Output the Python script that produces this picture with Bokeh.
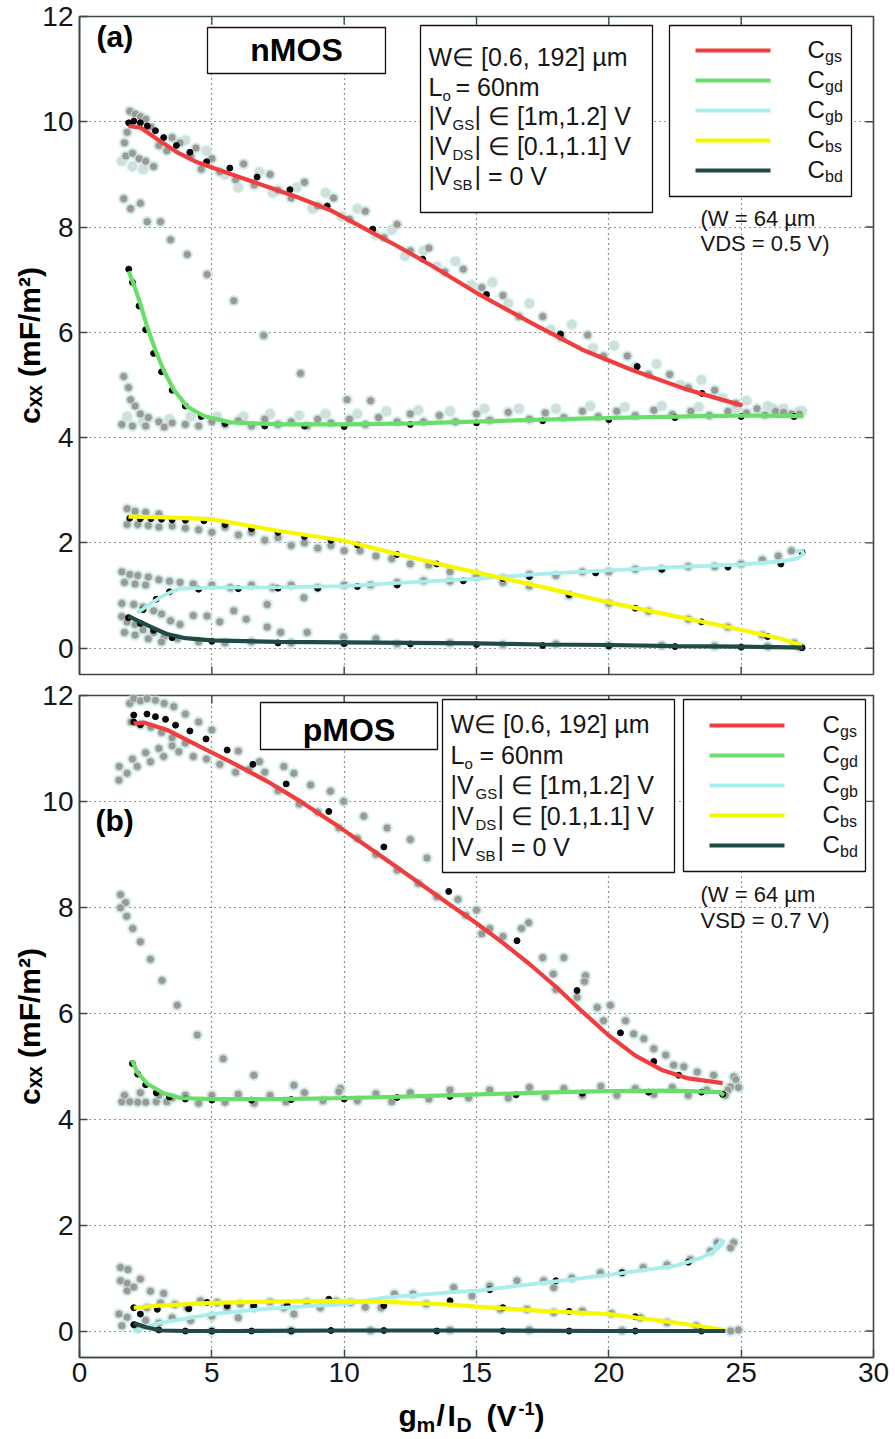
from bokeh.plotting import figure
from bokeh.models import Range1d, Label, BoxAnnotation, FixedTicker
from bokeh.layouts import column
from bokeh.embed import file_html
from bokeh.resources import INLINE

# ---------------- data ----------------
X_TICKS = [0, 5, 10, 15, 20, 25, 30]
Y_TICKS = [0, 2, 4, 6, 8, 10, 12]
SERIES = ["Cgs", "Cgd", "Cgb", "Cbs", "Cbd"]
COLORS = ["#f03e3e", "#6ade6a", "#a9eded", "#f7f700", "#1f4a45"]

# nMOS (W = 64 um, VDS = 0.5 V)
n_cgs_x = [1.86, 2.30, 2.94, 3.69, 4.45, 5.70, 6.96, 8.22, 9.48, 10.74, 12.00, 13.30, 15.10, 17.10, 19.00, 20.90, 22.80, 24.00, 25.05]
n_cgs_y = [9.92, 9.89, 9.67, 9.42, 9.23, 9.01, 8.79, 8.57, 8.32, 7.98, 7.64, 7.27, 6.72, 6.17, 5.67, 5.28, 4.94, 4.76, 4.61]
n_cgd_x = [1.86, 2.05, 2.30, 2.56, 2.87, 3.18, 3.56, 4.07, 4.70, 5.70, 7.60, 10.10, 12.60, 15.20, 17.50, 19.70, 21.60, 23.50, 25.50, 27.35]
n_cgd_y = [7.16, 6.91, 6.54, 6.10, 5.66, 5.28, 4.91, 4.59, 4.41, 4.29, 4.25, 4.25, 4.27, 4.31, 4.34, 4.37, 4.39, 4.41, 4.42, 4.41]
n_cgb_x = [2.19, 2.60, 3.10, 3.50, 3.80, 5.00, 7.50, 10.00, 12.10, 15.00, 17.50, 20.00, 22.50, 25.00, 26.50, 27.10, 27.35, 27.30, 27.05]
n_cgb_y = [0.67, 0.82, 0.98, 1.08, 1.13, 1.15, 1.16, 1.18, 1.24, 1.32, 1.41, 1.48, 1.54, 1.59, 1.65, 1.70, 1.79, 1.86, 1.84]
n_cbs_x = [1.85, 3.00, 5.00, 7.50, 10.00, 12.10, 14.00, 15.00, 17.50, 20.00, 22.50, 25.00, 26.50, 27.30]
n_cbs_y = [2.50, 2.49, 2.45, 2.23, 2.04, 1.78, 1.55, 1.44, 1.16, 0.87, 0.61, 0.35, 0.18, 0.05]
n_cbd_x = [1.85, 2.30, 2.80, 3.30, 4.00, 5.00, 7.50, 10.00, 12.50, 15.00, 17.50, 20.00, 22.50, 25.00, 27.35]
n_cbd_y = [0.61, 0.50, 0.38, 0.27, 0.19, 0.15, 0.12, 0.11, 0.10, 0.09, 0.07, 0.06, 0.04, 0.03, 0.01]

# pMOS (W = 64 um, VSD = 0.7 V)
p_cgs_x = [2.05, 2.43, 3.31, 4.57, 5.82, 7.09, 8.35, 9.60, 10.87, 12.13, 14.00, 15.00, 16.00, 17.00, 18.00, 19.00, 20.00, 21.00, 22.00, 23.00, 24.30]
p_cgs_y = [11.47, 11.49, 11.35, 11.03, 10.72, 10.38, 10.00, 9.59, 9.15, 8.71, 8.05, 7.70, 7.33, 6.93, 6.50, 6.03, 5.58, 5.20, 4.93, 4.77, 4.68]
p_cgd_x = [1.99, 2.18, 2.56, 3.18, 3.82, 5.08, 7.60, 10.10, 12.60, 15.10, 17.40, 19.90, 22.40, 24.20, 24.35]
p_cgd_y = [5.11, 4.89, 4.67, 4.49, 4.40, 4.38, 4.38, 4.40, 4.43, 4.47, 4.50, 4.53, 4.54, 4.51, 4.45]
p_cgb_x = [2.05, 3.00, 5.00, 7.00, 10.00, 11.50, 14.00, 15.00, 17.50, 20.00, 22.50, 23.50, 24.10, 24.35, 24.25, 24.05, 23.90]
p_cgb_y = [0.00, 0.15, 0.32, 0.42, 0.51, 0.63, 0.73, 0.76, 0.91, 1.06, 1.23, 1.38, 1.55, 1.68, 1.72, 1.58, 1.45]
p_cbs_x = [2.05, 3.00, 5.00, 7.50, 10.00, 12.10, 14.00, 15.00, 17.50, 20.00, 22.50, 24.40]
p_cbs_y = [0.44, 0.48, 0.53, 0.56, 0.57, 0.54, 0.50, 0.46, 0.38, 0.32, 0.16, 0.02]
p_cbd_x = [2.05, 2.50, 3.10, 4.00, 6.00, 10.00, 15.00, 20.00, 24.40]
p_cbd_y = [0.15, 0.07, 0.01, 0.00, 0.00, 0.01, 0.01, 0.00, 0.00]

# swept-W / swept-bias point clouds (x, y) pairs
n_cloud_gs = [(1.70, 9.60), (1.80, 9.80), (1.90, 10.20), (2.10, 10.15), (2.30, 10.10), (2.50, 10.05), (2.70, 9.90),
              (1.75, 9.35), (2.00, 9.40), (2.25, 9.30), (2.50, 9.25), (2.80, 9.15), (3.00, 9.55), (3.30, 9.45),
              (3.50, 9.70), (3.80, 9.60), (4.20, 9.35), (4.60, 9.10), (4.40, 9.50), (5.00, 9.30), (5.30, 9.05),
              (5.90, 8.90), (6.20, 9.20), (6.60, 8.80), (7.20, 9.00), (7.50, 8.70), (8.00, 8.55), (8.50, 8.85),
              (9.00, 8.40), (9.60, 8.55), (10.20, 8.15), (10.80, 8.30), (11.50, 7.80), (12.00, 8.05), (12.50, 7.55),
              (13.20, 7.60), (13.80, 7.15), (14.50, 7.20), (15.20, 6.85), (16.00, 6.70), (16.60, 6.30), (17.50, 6.30),
              (18.20, 5.90), (19.20, 5.95), (19.80, 5.55), (20.70, 5.55), (21.50, 5.20), (22.30, 5.20), (23.00, 4.95),
              (24.00, 4.90), (24.80, 4.65), (25.60, 4.55), (26.30, 4.50), (26.90, 4.45)]
n_cloud_gs_pale = [(1.60, 9.25), (2.00, 9.15), (2.40, 9.10), (4.00, 9.65), (4.80, 9.45), (5.50, 9.00), (6.00, 8.75),
                   (6.80, 9.05), (7.30, 8.65), (8.20, 8.75), (8.80, 8.35), (9.30, 8.65), (9.90, 8.20), (10.50, 8.35),
                   (11.20, 7.85), (11.80, 7.95), (12.30, 7.45), (13.00, 7.55), (13.50, 7.25), (14.20, 7.35),
                   (14.80, 6.90), (15.60, 6.95), (16.20, 6.55), (17.00, 6.55), (17.80, 6.05), (18.60, 6.15),
                   (19.40, 5.70), (20.20, 5.75), (21.00, 5.35), (21.80, 5.40), (22.70, 5.00), (23.50, 5.10),
                   (24.30, 4.75), (25.20, 4.70), (26.00, 4.60), (26.60, 4.55), (27.20, 4.50)]
n_cloud_diag = [(1.67, 8.54), (1.93, 8.35), (2.30, 8.45), (2.56, 8.10), (3.06, 8.10), (3.44, 7.76), (4.07, 7.48),
                (4.82, 7.10), (5.83, 6.60), (6.96, 5.94), (8.35, 5.22), (10.11, 4.72), (11.00, 4.70)]
n_cloud_gd = [(1.67, 5.16), (1.85, 4.95), (1.93, 4.72), (2.10, 4.60), (2.30, 4.45), (2.60, 4.38), (3.00, 4.30),
              (3.50, 4.28), (4.00, 4.25), (1.60, 4.25), (2.00, 4.22), (2.50, 4.22), (3.20, 4.20), (4.50, 4.22),
              (5.00, 4.30), (5.50, 4.25), (6.00, 4.32), (6.50, 4.22), (7.00, 4.35), (7.50, 4.25), (8.00, 4.30),
              (8.60, 4.22), (9.00, 4.35), (9.50, 4.28), (10.20, 4.35), (10.80, 4.25), (11.30, 4.38), (12.00, 4.30),
              (12.50, 4.45), (13.00, 4.30), (13.60, 4.42), (14.20, 4.30), (15.00, 4.45), (15.50, 4.33), (16.20, 4.48),
              (17.00, 4.35), (17.60, 4.47), (18.30, 4.38), (19.00, 4.50), (19.60, 4.40), (20.30, 4.50), (21.00, 4.42),
              (21.70, 4.52), (22.40, 4.44), (23.10, 4.50), (23.80, 4.42), (24.50, 4.50), (25.20, 4.47), (25.90, 4.43),
              (26.60, 4.48), (27.20, 4.45)]
n_cloud_gd_pale = [(1.80, 4.40), (2.40, 4.30), (3.40, 4.35), (4.20, 4.40), (5.20, 4.40), (6.20, 4.40), (7.20, 4.45),
                   (8.30, 4.42), (9.30, 4.45), (10.50, 4.45), (11.60, 4.50), (12.80, 4.52), (14.00, 4.50),
                   (15.30, 4.55), (16.60, 4.55), (18.00, 4.55), (19.30, 4.60), (20.60, 4.58), (22.00, 4.60),
                   (23.40, 4.58), (24.80, 4.55), (26.20, 4.55), (27.30, 4.50)]
n_cloud_bs = [(1.80, 2.65), (2.10, 2.60), (2.50, 2.58), (3.00, 2.55), (1.80, 2.35), (2.20, 2.35), (2.60, 2.33),
              (3.00, 2.30), (3.50, 2.32), (4.00, 2.28), (4.50, 2.25), (5.00, 2.20), (5.50, 2.30), (6.00, 2.15),
              (6.50, 2.20), (7.00, 2.05), (7.50, 2.10), (8.00, 1.95), (8.50, 2.00), (9.00, 1.90), (9.50, 1.95),
              (10.00, 1.85), (10.60, 1.85), (11.20, 1.75), (11.80, 1.70), (12.50, 1.60), (13.20, 1.58), (14.00, 1.45),
              (15.00, 1.40), (16.00, 1.25), (17.00, 1.18), (18.50, 1.00), (20.00, 0.85), (21.50, 0.70), (23.00, 0.55),
              (24.50, 0.40), (25.80, 0.25), (27.00, 0.10)]
n_cloud_gb = [(1.60, 1.45), (1.90, 1.40), (2.20, 1.38), (2.60, 1.35), (3.00, 1.30), (3.40, 1.27), (3.80, 1.25),
              (1.70, 1.25), (2.10, 1.22), (2.50, 1.20), (4.30, 1.22), (5.00, 1.20), (5.70, 1.15), (6.50, 1.20),
              (7.30, 1.15), (8.00, 1.20), (9.00, 1.15), (10.00, 1.20), (11.00, 1.20), (12.00, 1.25), (13.00, 1.28),
              (14.00, 1.27), (15.00, 1.35), (16.00, 1.33), (17.00, 1.40), (18.00, 1.38), (19.00, 1.45), (20.00, 1.45),
              (21.00, 1.50), (22.00, 1.50), (23.00, 1.55), (24.00, 1.55), (25.00, 1.60), (25.80, 1.68), (26.40, 1.75),
              (26.90, 1.85)]
n_cloud_low = [(1.60, 0.85), (2.05, 0.83), (2.40, 0.78), (2.80, 0.71), (3.10, 0.65), (3.44, 0.52), (3.80, 0.45),
               (4.30, 0.62), (4.82, 0.61), (5.30, 0.50), (5.83, 0.71), (6.30, 0.55), (7.09, 0.83), (7.09, 0.40),
               (7.60, 0.30), (8.48, 0.96), (8.60, 0.30), (9.98, 0.21), (11.20, 0.18),
               (1.60, 0.60), (1.80, 0.50), (2.10, 0.45), (2.40, 0.35), (2.80, 0.30), (3.20, 0.22), (3.70, 0.18),
               (1.70, 0.30), (2.10, 0.25), (2.60, 0.18), (3.10, 0.12), (4.50, 0.12), (5.50, 0.10), (6.50, 0.12),
               (8.00, 0.10), (10.00, 0.10), (12.00, 0.08), (14.00, 0.10), (16.00, 0.07), (18.00, 0.08), (20.00, 0.05),
               (22.00, 0.05), (24.00, 0.04), (26.00, 0.03), (27.20, 0.02)]
n_black = [(1.86, 9.98), (2.05, 10.01), (2.30, 9.98), (2.56, 9.92), (2.87, 9.83), (3.18, 9.70), (3.66, 9.55),
           (4.17, 9.42), (4.80, 9.24), (5.68, 9.12), (6.71, 8.95), (7.95, 8.71), (9.36, 8.40), (11.08, 7.96),
           (12.97, 7.39), (15.38, 6.72), (18.17, 5.97), (21.07, 5.35), (23.52, 4.84),
           (1.86, 7.20), (2.00, 6.95), (2.25, 6.50), (2.50, 6.05), (2.80, 5.60), (3.10, 5.25), (3.50, 4.90),
           (4.00, 4.60), (4.60, 4.40), (5.50, 4.27), (7.00, 4.22), (8.50, 4.22), (10.00, 4.21), (12.50, 4.25),
           (15.00, 4.28), (17.50, 4.32), (20.00, 4.34), (22.50, 4.38), (25.00, 4.40), (27.00, 4.40),
           (1.90, 2.47), (2.30, 2.46), (2.70, 2.46), (3.10, 2.45), (3.50, 2.44), (4.00, 2.43), (4.70, 2.42),
           (5.50, 2.35), (6.50, 2.27), (7.50, 2.20), (8.50, 2.12), (9.50, 2.05), (10.50, 1.96), (12.00, 1.78),
           (13.50, 1.60), (16.00, 1.32), (18.50, 1.02), (21.00, 0.76), (23.50, 0.50), (26.00, 0.22),
           (2.40, 0.73), (2.90, 0.93), (3.40, 1.07), (4.50, 1.12), (6.00, 1.13), (7.50, 1.14), (9.00, 1.14),
           (10.50, 1.17), (12.00, 1.20), (14.50, 1.28), (17.00, 1.36), (19.50, 1.43), (22.00, 1.50), (24.50, 1.54),
           (26.50, 1.60), (27.30, 1.82),
           (1.85, 0.58), (2.30, 0.47), (2.80, 0.34), (3.50, 0.20), (5.00, 0.13), (7.50, 0.10), (10.00, 0.09),
           (12.50, 0.08), (15.00, 0.07), (17.50, 0.05), (20.00, 0.04), (22.50, 0.03), (25.00, 0.02), (27.30, 0.01)]

p_cloud_gs = [(1.90, 11.85), (2.05, 11.94), (2.30, 11.90), (2.55, 11.94), (2.87, 11.91), (3.20, 11.85), (3.56, 11.79),
              (4.00, 11.65), (4.50, 11.50), (5.00, 11.35), (1.95, 11.50), (2.30, 11.45), (2.70, 11.40), (3.10, 11.30),
              (3.50, 11.20), (4.00, 11.10), (1.49, 10.40), (1.80, 10.53), (2.18, 10.66), (2.68, 10.75), (3.18, 10.85),
              (3.75, 10.94), (1.50, 10.66), (2.00, 10.80), (2.50, 10.92), (3.00, 11.00), (3.50, 11.05), (4.30, 10.85),
              (4.80, 10.80), (5.30, 10.70), (5.90, 10.55), (6.40, 10.60), (7.00, 10.55), (7.72, 10.66), (8.10, 10.53),
              (8.73, 10.31), (9.48, 10.19), (9.98, 10.00), (10.74, 9.72), (11.62, 9.50), (12.50, 9.28), (13.13, 8.93),
              (6.00, 10.95), (6.80, 10.75), (7.50, 10.20), (8.30, 9.95), (9.00, 9.80), (9.80, 9.50), (10.50, 9.30),
              (11.20, 9.00), (12.00, 8.70), (12.80, 8.45), (13.50, 8.20), (14.30, 8.15), (15.00, 7.95), (15.50, 7.60),
              (16.00, 7.45), (16.70, 7.60), (16.97, 7.71), (17.50, 7.05), (17.90, 6.74), (18.30, 7.05), (19.12, 6.71),
              (19.08, 6.60), (19.56, 6.11), (19.80, 5.86), (20.06, 6.15), (20.63, 5.86), (20.94, 5.61), (21.32, 5.52),
              (21.70, 5.33), (22.15, 5.21), (22.45, 5.02), (22.83, 4.99), (23.34, 4.89), (23.96, 4.83), (24.72, 4.80),
              (24.60, 4.61), (24.50, 4.55), (18.00, 6.45), (18.80, 6.30), (15.20, 7.50), (14.60, 7.85)]
p_cloud_diag = [(1.55, 8.24), (1.74, 8.09), (1.55, 7.99), (1.78, 7.83), (2.01, 7.60), (2.30, 7.35), (2.68, 7.02),
                (3.12, 6.62), (3.69, 6.15), (4.45, 5.59), (5.43, 5.14), (6.59, 4.83), (8.10, 4.64), (9.86, 4.58)]
p_cloud_gd = [(1.60, 4.33), (1.90, 4.33), (2.20, 4.32), (2.50, 4.32), (2.90, 4.33), (3.30, 4.33), (1.70, 4.45),
              (2.30, 4.50), (3.00, 4.45), (3.50, 4.40), (4.00, 4.45), (4.50, 4.30), (5.00, 4.45), (5.50, 4.32),
              (6.00, 4.47), (6.60, 4.30), (7.20, 4.45), (7.80, 4.33), (8.50, 4.50), (9.20, 4.35), (9.80, 4.52),
              (10.50, 4.35), (11.20, 4.48), (11.80, 4.33), (12.50, 4.50), (13.20, 4.38), (14.00, 4.55), (14.70, 4.40),
              (15.50, 4.55), (16.20, 4.40), (17.00, 4.60), (17.60, 4.42), (18.30, 4.58), (19.00, 4.45), (19.70, 4.62),
              (20.30, 4.45), (21.00, 4.58), (21.70, 4.47), (22.40, 4.60), (23.00, 4.45), (23.70, 4.55), (24.40, 4.45),
              (24.90, 4.60), (24.80, 4.75)]
p_cloud_low = [(1.55, 1.20), (1.83, 1.16), (1.55, 0.95), (1.80, 0.90), (1.80, 0.76), (2.05, 0.83), (2.30, 0.98),
               (2.68, 0.75), (3.18, 0.71), (1.49, 0.32), (1.80, 0.26), (2.55, 0.44), (3.06, 0.53), (3.60, 0.50),
               (4.07, 0.44), (4.57, 0.57), (5.20, 0.54), (5.58, 0.44), (6.08, 0.51), (6.58, 0.44), (7.20, 0.55),
               (7.72, 0.44), (8.10, 0.32), (8.60, 0.55), (9.10, 0.44), (9.70, 0.56), (10.24, 0.54), (10.80, 0.45),
               (11.40, 0.44), (11.90, 0.70), (12.60, 0.70), (13.10, 0.51), (2.50, 0.20), (3.00, 0.15), (3.50, 0.25),
               (4.20, 0.20), (5.00, 0.28), (6.00, 0.25), (1.60, 0.10), (2.20, 0.05), (14.14, 0.82), (14.83, 0.66),
               (15.50, 0.85), (16.53, 0.95), (17.54, 0.95), (17.92, 0.82), (18.60, 1.00), (19.68, 1.10), (20.50, 1.10),
               (21.30, 1.20), (22.20, 1.25), (23.08, 1.35), (23.84, 1.51), (24.09, 1.67), (24.72, 1.67), (24.60, 1.57),
               (15.90, 0.41), (16.90, 0.41), (17.92, 0.35), (19.00, 0.38), (20.10, 0.33), (21.20, 0.25), (22.20, 0.16),
               (23.30, 0.10), (24.60, 0.00), (24.90, 0.02), (14.00, 0.02), (17.00, 0.02), (20.50, 0.01), (11.00, 0.01),
               (8.00, 0.01), (5.00, 0.00)]
p_black = [(2.05, 11.63), (2.55, 11.65), (2.87, 11.60), (3.25, 11.55), (3.63, 11.44), (4.17, 11.33), (4.78, 11.18),
           (5.58, 10.97), (6.55, 10.70), (7.81, 10.33), (9.42, 9.81), (11.50, 9.14), (13.95, 8.30), (16.53, 7.37),
           (18.80, 6.43), (20.44, 5.63), (21.70, 5.09), (22.64, 4.83), (2.05, 11.50), (2.30, 11.45),
           (2.00, 5.05), (2.20, 4.85), (2.50, 4.65), (2.90, 4.50), (3.40, 4.42), (4.00, 4.38), (5.00, 4.36),
           (6.50, 4.36), (8.00, 4.37), (10.00, 4.38), (12.00, 4.41), (14.00, 4.43), (16.50, 4.46), (19.00, 4.49),
           (21.50, 4.51), (23.50, 4.51), (24.30, 4.47),
           (2.05, 0.44), (2.30, 0.32), (2.94, 0.41), (4.13, 0.42), (4.82, 0.54), (5.58, 0.48), (6.58, 0.48),
           (7.85, 0.48), (9.42, 0.60), (11.50, 0.48), (14.00, 0.57), (15.50, 0.78), (18.00, 0.95), (20.50, 1.10),
           (23.00, 1.30), (24.20, 1.65), (16.00, 0.44), (18.50, 0.37), (21.00, 0.27),
           (2.05, 0.12), (3.00, 0.02), (4.00, 0.00), (5.00, 0.00), (6.50, 0.00), (8.00, 0.00), (9.50, 0.01),
           (11.50, 0.01), (13.50, 0.00), (16.00, 0.00), (18.50, 0.00), (21.00, 0.00), (23.50, 0.00)]

# ---------------- styling / layout ----------------
FONT = "Liberation Sans"
FRAME = "#3b4a45"
TXT = "#161616"
FL, FR = 79, 873          # frame left/right in page pixels
TOP_F = (16, 674)         # nMOS frame top/bottom (page px)
BOT_F = (695, 1357)       # pMOS frame top/bottom (page px)
STRIP_TOP = 1396          # x-title strip top (page px)
YMIN, YMAX = -0.5, 12.0
BL = 0.36                 # baseline correction (fraction of font size)


def conv(frame):
    t, b = frame
    def f(px, py):
        x = (px - FL) / (FR - FL) * 30.0
        y = YMAX - (py - t) / (b - t) * (YMAX - YMIN)
        return x, y
    return f


def make_fig(height, frame, top, bottom, show_x):
    p = figure(width=895, height=height, x_range=Range1d(0, 30), y_range=Range1d(YMIN, YMAX),
               output_backend="svg", toolbar_location=None,
               x_axis_location="below" if show_x else None,
               min_border_left=FL, min_border_right=895 - FR,
               min_border_top=top, min_border_bottom=bottom)
    p.background_fill_color = "white"
    p.border_fill_color = "white"
    p.outline_line_color = FRAME
    p.outline_line_width = 1.6
    for ax in p.axis:
        ax.major_tick_in = 8
        ax.major_tick_out = 0
        ax.minor_tick_line_color = None
        ax.axis_line_color = FRAME
        ax.axis_line_width = 1.6
        ax.major_tick_line_color = FRAME
        ax.major_tick_line_width = 1.4
        ax.major_label_text_font = FONT
        ax.major_label_text_font_size = "28px"
        ax.major_label_text_color = TXT
    for ax in p.yaxis:
        ax.ticker = FixedTicker(ticks=Y_TICKS)
        ax.major_label_standoff = 6
        ax.axis_label = "c\u2093\u2093 (mF/m\u00b2)"
        ax.axis_label_text_font = FONT
        ax.axis_label_text_font_style = "bold"
        ax.axis_label_text_font_size = "30px"
        ax.axis_label_text_color = "#000000"
        ax.axis_label_standoff = -7
    for ax in p.xaxis:
        ax.ticker = FixedTicker(ticks=X_TICKS)
        ax.major_label_standoff = 5
    for g in p.grid:
        g.grid_line_color = "#2a2a2a"
        g.grid_line_dash = "1 4"
        g.grid_line_width = 1.2
    p.xgrid.ticker = FixedTicker(ticks=X_TICKS)
    p.ygrid.ticker = FixedTicker(ticks=Y_TICKS)
    # inward tick marks on the other frame sides (from the tick lists)
    t, b = frame
    dy = 8 / (b - t) * (YMAX - YMIN)
    dx = 8 / (FR - FL) * 30.0
    xt = X_TICKS[1:-1]
    yt = Y_TICKS[1:-1] + [0]
    p.segment(x0=xt, y0=[YMAX] * len(xt), x1=xt, y1=[YMAX - dy] * len(xt), line_color=FRAME, line_width=1.4)
    p.segment(x0=[30.0] * len(yt), y0=yt, x1=[30.0 - dx] * len(yt), y1=yt, line_color=FRAME, line_width=1.4)
    if not show_x:
        p.segment(x0=xt, y0=[YMIN] * len(xt), x1=xt, y1=[YMIN + dy] * len(xt), line_color=FRAME, line_width=1.4)
    return p


def draw_data(p, clouds, pale, black, curves):
    allc = clouds + pale
    for cl in allc:
        p.scatter([a for a, b in cl], [b for a, b in cl], size=12, color="#c6eeee", alpha=0.7, line_color=None)
    for cl in pale:
        p.scatter([a for a, b in cl], [b for a, b in cl], size=8, fill_color="#d9dcd8",
                  line_color="#bfe3dc", line_width=1.0)
    for cl in clouds:
        p.scatter([a for a, b in cl], [b for a, b in cl], size=8, fill_color="#999a97",
                  line_color="#cdd8cd", line_width=1.0)
    p.scatter([a for a, b in black], [b for a, b in black], size=6, color="#080808")
    for i in [1, 2, 3, 4, 0]:
        xs, ys = curves[i]
        p.line(xs, ys, line_color=COLORS[i], line_width=4.2 if i != 2 else 3.8)


def label(p, cv, px, py, text, size, bold=False, align="left", color=TXT):
    x, y = cv(px, py - BL * size)
    p.add_layout(Label(x=x, y=y, text=text, text_font=FONT, text_font_size=f"{size}px",
                       text_font_style="bold" if bold else "normal", text_align=align,
                       text_baseline="alphabetic", text_color=color))


def box(p, cv, x1, y1, x2, y2, fill="white", line="#111111", lw=1.3):
    l, t = cv(x1, y1)
    r, b = cv(x2, y2)
    p.add_layout(BoxAnnotation(left=l, right=r, top=t, bottom=b, fill_color=fill, fill_alpha=1.0,
                               line_color=line, line_width=lw, line_alpha=1.0 if line else 0.0))


def decorate(p, cv, tag, tag_pos, dev, dev_box, dev_base, pbox, px0, base, subs, lbox, lx, ly, ctext_x,
             note_x, note_base, note2):
    box(p, cv, *dev_box)
    label(p, cv, (dev_box[0] + dev_box[2]) / 2, dev_base, dev, 32, bold=True, align="center", color="#000")
    label(p, cv, tag_pos[0], tag_pos[1], tag, 30, bold=True, color="#000")
    box(p, cv, *pbox)
    fs, ss = 25, 15
    label(p, cv, px0, base[0], "W\u2208 [0.6, 192] \u00b5m", fs)
    label(p, cv, px0, base[1], "L", fs)
    label(p, cv, subs["o"], base[1] + 5, "o", ss)
    label(p, cv, subs["eq"], base[1], "= 60nm", fs)
    rows = [("GS", "| \u2208 [1m,1.2] V"), ("DS", "| \u2208 [0.1,1.1] V"), ("SB", "| = 0 V")]
    for k, (sb, rest) in enumerate(rows):
        by = base[2 + k]
        label(p, cv, px0, by, "|V", fs)
        label(p, cv, subs["sub"], by + 5, sb, ss)
        label(p, cv, subs["rest"], by, rest, fs)
    box(p, cv, *lbox)
    for k, name in enumerate(SERIES):
        yy = ly[k]
        box(p, cv, lx[0], yy - 2, lx[1], yy + 2, fill=COLORS[k], line=None)
        label(p, cv, ctext_x, yy + 8, "C", 24)
        label(p, cv, ctext_x + 17.5, yy + 12, name[1:], 16)
    label(p, cv, note_x, note_base[0], "(W = 64 \u00b5m", 22)
    label(p, cv, note_x, note_base[1], note2, 22)


# ---------------- top panel (nMOS) ----------------
top = make_fig(678, TOP_F, 16, 4, False)
draw_data(top, [n_cloud_gs, n_cloud_diag, n_cloud_gd, n_cloud_bs, n_cloud_gb, n_cloud_low],
          [n_cloud_gs_pale, n_cloud_gd_pale], n_black,
          [(n_cgs_x, n_cgs_y), (n_cgd_x, n_cgd_y), (n_cgb_x, n_cgb_y), (n_cbs_x, n_cbs_y), (n_cbd_x, n_cbd_y)])
cvt = conv(TOP_F)
decorate(top, cvt, "(a)", (96, 47), "nMOS", (207, 27, 385, 73), 61, (420, 25, 652, 212), 428,
         [65, 95, 124, 154, 184], {"o": 442, "eq": 455, "sub": 452, "rest": 474},
         (669, 25, 851, 196), (695, 770), [50, 80, 110, 140, 170], 807, 700, (226, 251), "VDS = 0.5 V)")

# ---------------- bottom panel (pMOS) ----------------
bot = make_fig(STRIP_TOP - 678, BOT_F, 17, STRIP_TOP - BOT_F[1], True)
draw_data(bot, [p_cloud_gs, p_cloud_diag, p_cloud_gd, p_cloud_low], [], p_black,
          [(p_cgs_x, p_cgs_y), (p_cgd_x, p_cgd_y), (p_cgb_x, p_cgb_y), (p_cbs_x, p_cbs_y), (p_cbd_x, p_cbd_y)])
cvb = conv(BOT_F)
decorate(bot, cvb, "(b)", (95, 831), "pMOS", (260, 702, 437, 749), 741, (442, 699, 674, 872), 450,
         [732, 763, 793, 824, 855], {"o": 464, "eq": 479, "sub": 475, "rest": 497},
         (683, 699, 865, 871), (709, 784), [725, 755, 785, 815, 845], 822, 700, (902, 928), "VSD = 0.7 V)")

# ---------------- x-axis title strip (sub/superscripts) ----------------
# the column aligns this strip's frame with the panels' frames (page x 79..873)
SH = 1439 - STRIP_TOP
strip = figure(width=895, height=SH, x_range=Range1d(FL, FR), y_range=Range1d(SH, 0),
               output_backend="svg", toolbar_location=None, x_axis_location=None, y_axis_location=None,
               min_border_left=FL, min_border_right=895 - FR, min_border_top=0, min_border_bottom=0)
strip.grid.visible = False
strip.outline_line_color = None
strip.background_fill_color = "white"
strip.border_fill_color = "white"


def cv_strip(px, py):
    return px, py - STRIP_TOP


XB = 1426
for txt, px, dy, sz in [("g", 398, 0, 30), ("m", 416, 6, 21), ("/", 436, 0, 30), ("I", 447, 0, 30),
                        ("D", 456, 6, 21), ("(V", 486, 0, 30), ("-1", 518, -12, 18), (")", 534, 0, 30)]:
    label(strip, cv_strip, px, XB + dy, txt, sz, bold=True, color="#000")

layout = column(top, bot, strip)
open("out.html", "w").write(file_html(layout, INLINE))
